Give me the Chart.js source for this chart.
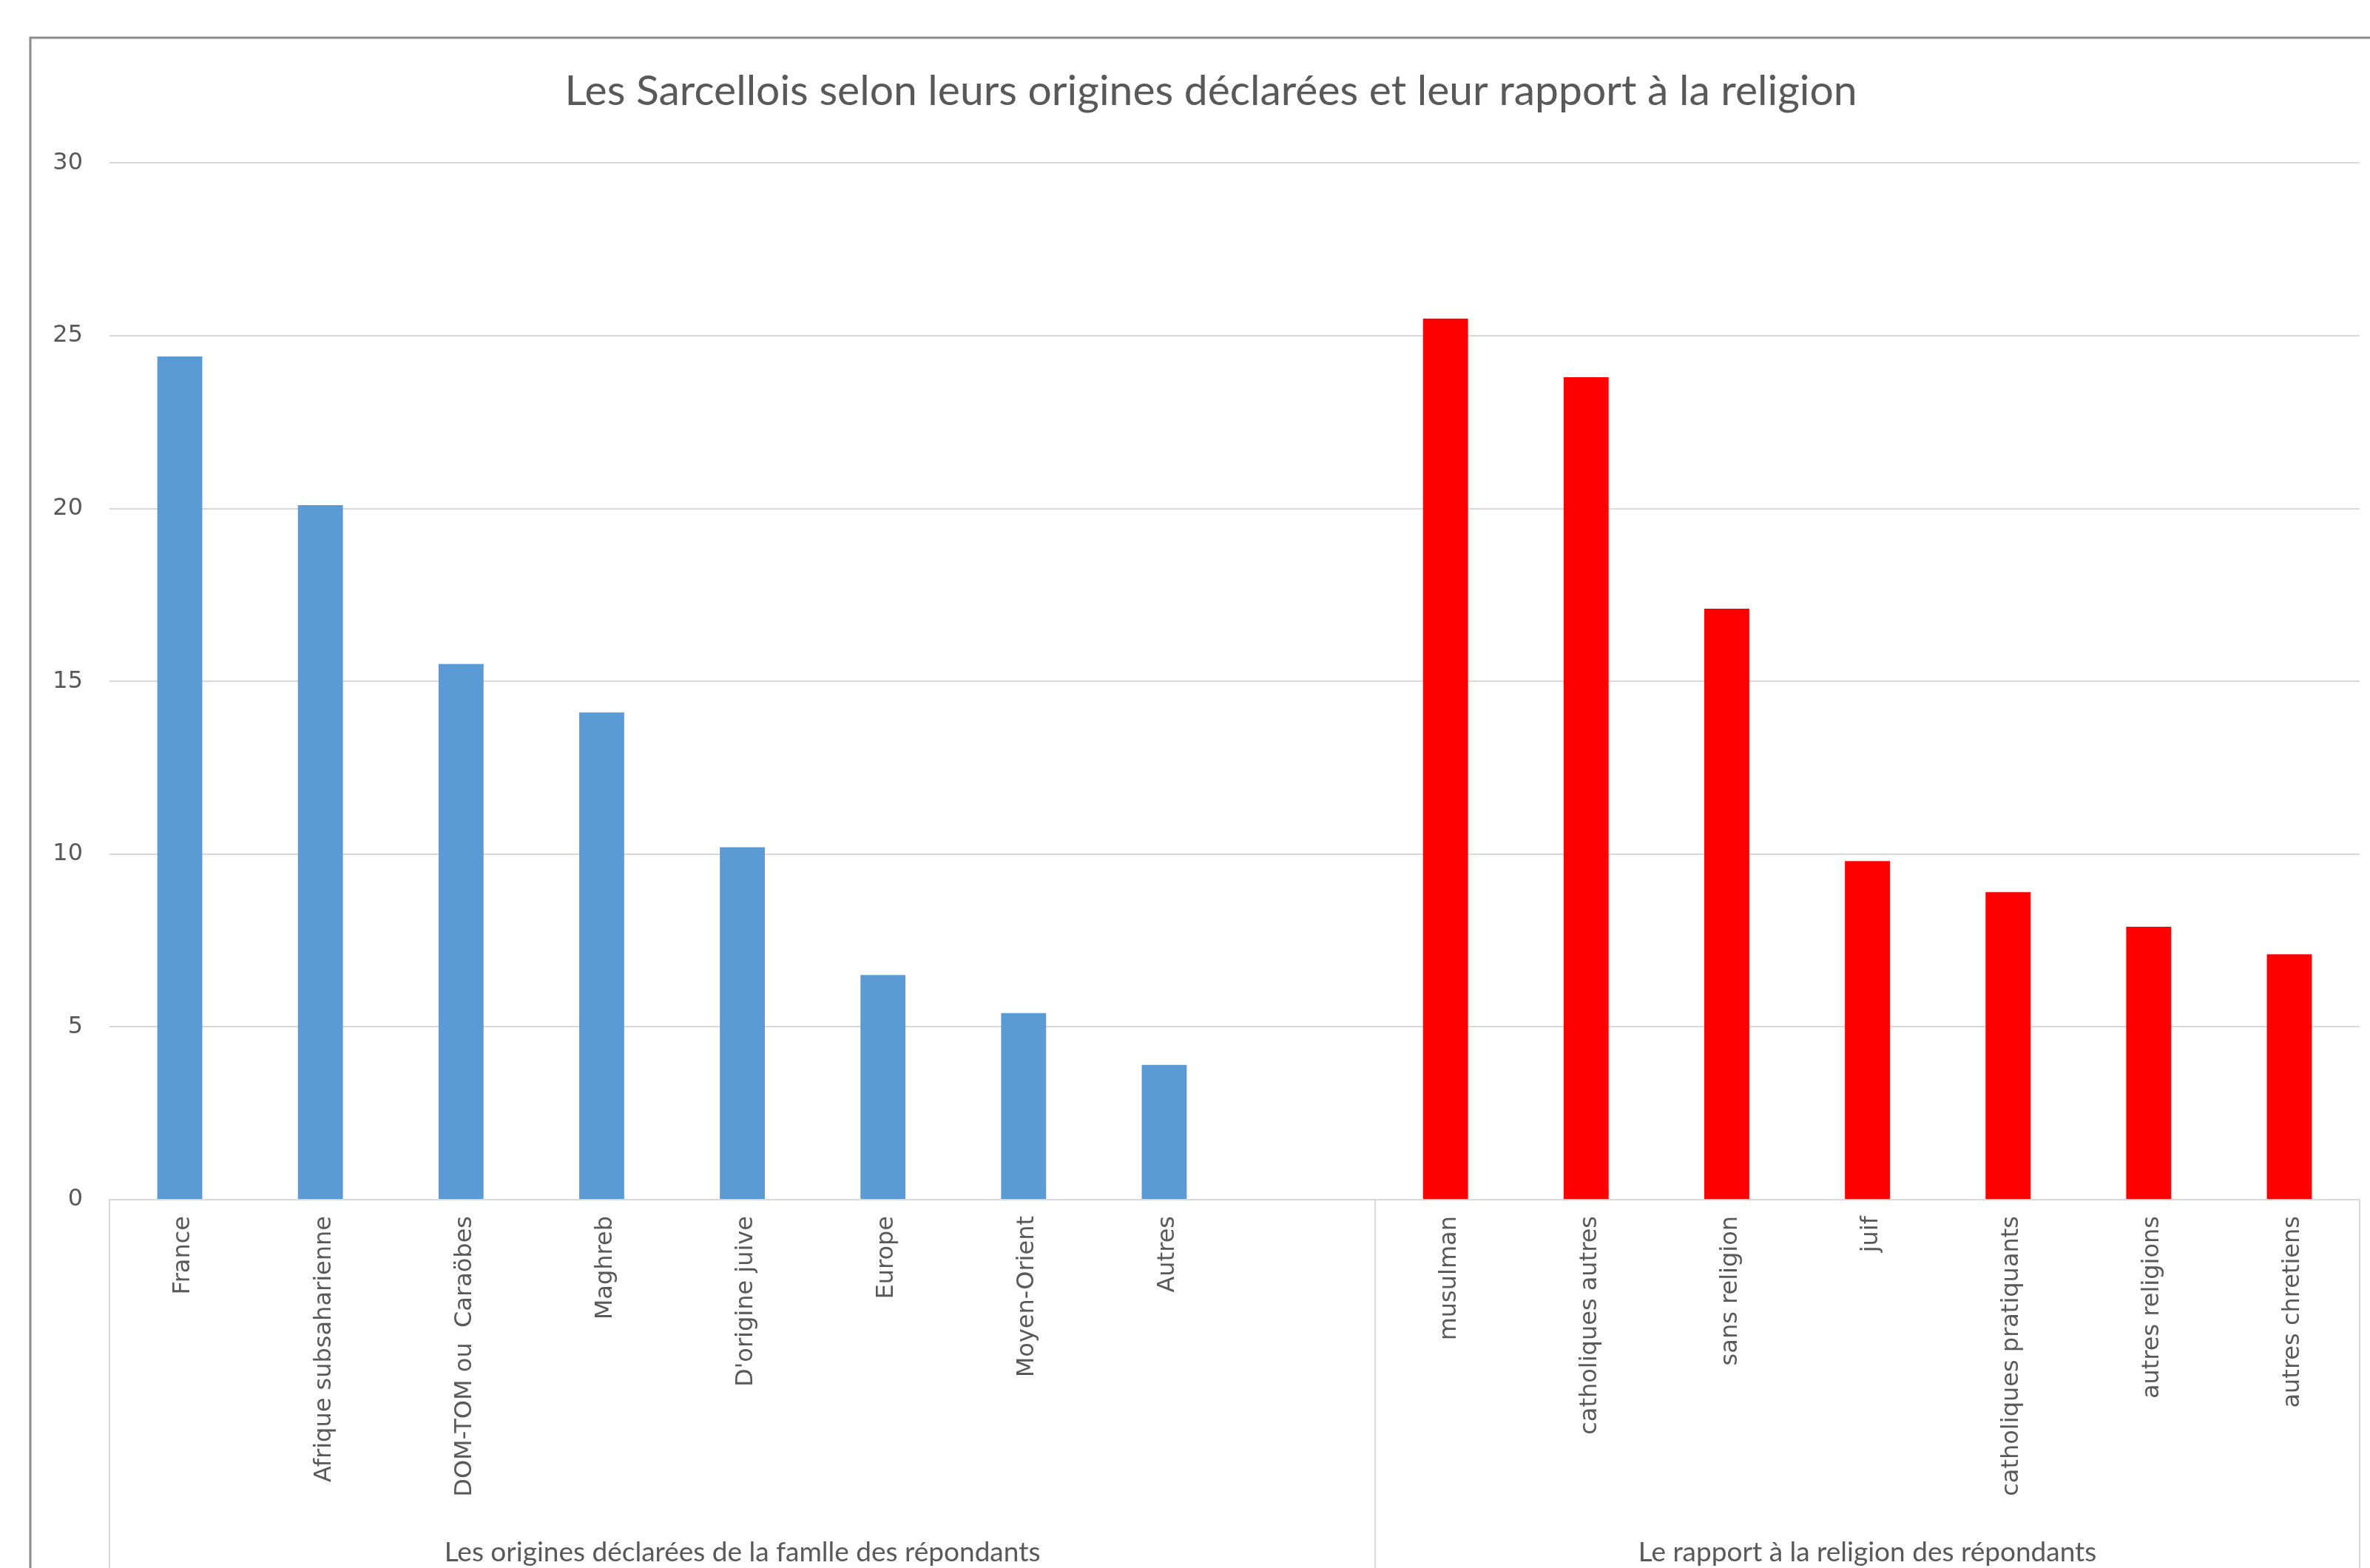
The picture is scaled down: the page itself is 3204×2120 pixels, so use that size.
<!DOCTYPE html>
<html><head><meta charset="utf-8">
<script src="https://cdn.jsdelivr.net/npm/chart.js@4.4.1/dist/chart.umd.min.js"></script>
<style>html,body{margin:0;padding:0;background:#fff;overflow:hidden;}</style>
</head><body>
<canvas id="c" width="3274" height="2120"></canvas>
<script>
const chartTitle = 'Les Sarcellois selon leurs origines déclarées et leur rapport à la religion';
const groupLabels = ['Les origines déclarées de la famlle des répondants', 'Le rapport à la religion des répondants'];
const originCategories = ['France', 'Afrique subsaharienne', 'DOM-TOM ou  Caraöbes', 'Maghreb', "D'origine juive", 'Europe', 'Moyen-Orient', 'Autres'];
const originValues = [24.4, 20.1, 15.5, 14.1, 10.2, 6.5, 5.4, 3.9];
const religionCategories = ['musulman', 'catholiques autres', 'sans religion', 'juif', 'catholiques pratiquants', 'autres religions', 'autres chretiens'];
const religionValues = [25.5, 23.8, 17.1, 9.8, 8.9, 7.9, 7.1];
const yTicks = [0, 5, 10, 15, 20, 25, 30];

const originColor = '#5B9BD5';
const religionColor = '#FF0000';

const labels = [...originCategories, '', ...religionCategories];
const values = [...originValues, null, ...religionValues];
const colors = [...originCategories.map(() => originColor), 'rgba(0,0,0,0)', ...religionCategories.map(() => religionColor)];

const decor = {
  id: 'decor',
  beforeDraw(chart) {
    const ctx = chart.ctx;
    ctx.save();
    ctx.fillStyle = '#ffffff';
    ctx.fillRect(0, 0, chart.width, chart.height);
    ctx.strokeStyle = '#8c8c8c';
    ctx.lineWidth = 3;
    ctx.beginPath();
    ctx.moveTo(41, chart.height);
    ctx.lineTo(41, 51);
    ctx.lineTo(chart.width, 51);
    ctx.stroke();
    ctx.restore();
  },
  afterDraw(chart) {
    const ctx = chart.ctx;
    const xs = chart.scales.x;
    const area = chart.chartArea;
    const step = (xs.right - xs.left) / chart.data.labels.length;
    const splitX = xs.left + (originCategories.length + 1) * step;
    const bounds = [xs.left, splitX, xs.right];
    ctx.save();
    ctx.strokeStyle = '#D9D9D9';
    ctx.lineWidth = 2;
    bounds.forEach(b => {
      ctx.beginPath();
      ctx.moveTo(b, area.bottom);
      ctx.lineTo(b, chart.height);
      ctx.stroke();
    });
    ctx.fillStyle = '#595959';
    ctx.font = '37px Lato';
    ctx.textAlign = 'center';
    ctx.textBaseline = 'middle';
    for (let i = 0; i < groupLabels.length; i++) {
      ctx.fillText(groupLabels[i], (bounds[i] + bounds[i + 1]) / 2, 2099);
    }
    ctx.restore();
  }
};

new Chart(document.getElementById('c'), {
  type: 'bar',
  data: {
    labels: labels,
    datasets: [{
      data: values,
      backgroundColor: colors,
      borderWidth: 0,
      barPercentage: 0.32,
      categoryPercentage: 1
    }]
  },
  options: {
    responsive: false,
    animation: false,
    layout: { padding: { left: 0, right: 0, top: 0, bottom: 0 } },
    plugins: {
      legend: { display: false },
      tooltip: { enabled: false },
      title: {
        display: true,
        text: chartTitle,
        color: '#595959',
        font: { family: 'Lato', size: 57, weight: 'normal' },
        padding: { top: 89, bottom: 63 }
      }
    },
    scales: {
      x: {
        grid: { display: false, drawTicks: false },
        border: { display: true, color: '#D9D9D9', width: 2 },
        ticks: {
          autoSkip: false, minRotation: 90, maxRotation: 90, padding: 22, labelOffset: 5,
          color: '#595959', font: { family: 'DejaVu Sans', size: 32 }
        },
        afterFit: s => { s.height = 498; }
      },
      y: {
        min: 0, max: 30,
        grid: { color: '#D9D9D9', lineWidth: 2, drawTicks: false },
        border: { display: false },
        ticks: { padding: 36, color: '#595959', font: { family: 'DejaVu Sans', size: 32 } },
        afterBuildTicks: s => { s.ticks = yTicks.map(v => ({ value: v })); },
        afterFit: s => { s.width = 148; }
      },
      yRight: {
        position: 'right',
        display: true,
        grid: { display: false, drawTicks: false },
        border: { display: false },
        ticks: { display: false },
        afterFit: s => { s.width = 84; }
      }
    }
  },
  plugins: [decor]
});
</script>
</body></html>
